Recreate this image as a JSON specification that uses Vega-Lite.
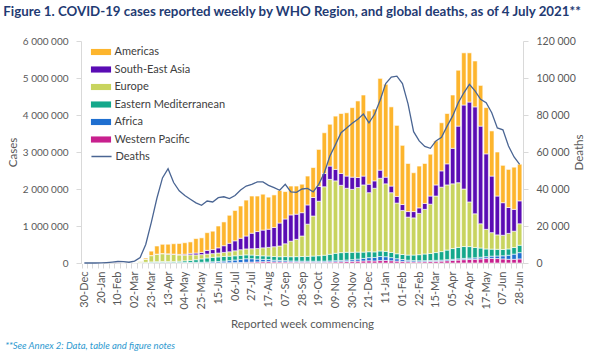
{
  "$schema": "https://vega.github.io/schema/vega-lite/v6.json",
  "padding": {"left": 3, "top": 4, "right": 4, "bottom": 2},
  "background": "white",
  "title": {"text": "Figure 1. COVID-19 cases reported weekly by WHO Region, and global deaths, as of 4 July 2021**", "anchor": "start", "frame": "bounds", "font": "Lato", "fontSize": 13.3, "fontWeight": "bold", "color": "#1F3B73", "offset": 18, "dx": -2},
  "datasets": {
    "w": [
      {"week":"2019-12-30","WPR":40,"AFR":0,"EMR":0,"EUR":0,"SEAR":0,"AMR":0,"deaths":0},
      {"week":"2020-01-06","WPR":10,"AFR":0,"EMR":0,"EUR":0,"SEAR":0,"AMR":0,"deaths":0},
      {"week":"2020-01-13","WPR":30,"AFR":0,"EMR":0,"EUR":0,"SEAR":0,"AMR":0,"deaths":0},
      {"week":"2020-01-20","WPR":1800,"AFR":0,"EMR":0,"EUR":0,"SEAR":0,"AMR":0,"deaths":40},
      {"week":"2020-01-27","WPR":12000,"AFR":0,"EMR":0,"EUR":0,"SEAR":10,"AMR":5,"deaths":250},
      {"week":"2020-02-03","WPR":23000,"AFR":0,"EMR":0,"EUR":10,"SEAR":10,"AMR":5,"deaths":500},
      {"week":"2020-02-10","WPR":31000,"AFR":0,"EMR":0,"EUR":10,"SEAR":0,"AMR":0,"deaths":800},
      {"week":"2020-02-17","WPR":8500,"AFR":0,"EMR":100,"EUR":10,"SEAR":0,"AMR":0,"deaths":700},
      {"week":"2020-02-24","WPR":5000,"AFR":1,"EMR":1000,"EUR":1000,"SEAR":10,"AMR":10,"deaths":400},
      {"week":"2020-03-02","WPR":5000,"AFR":10,"EMR":5000,"EUR":10000,"SEAR":50,"AMR":1000,"deaths":1000},
      {"week":"2020-03-09","WPR":3000,"AFR":200,"EMR":10000,"EUR":35000,"SEAR":100,"AMR":5000,"deaths":3000},
      {"week":"2020-03-16","WPR":5000,"AFR":500,"EMR":15000,"EUR":85000,"SEAR":300,"AMR":30000,"deaths":10000},
      {"week":"2020-03-23","WPR":8000,"AFR":1500,"EMR":20000,"EUR":170000,"SEAR":1000,"AMR":120000,"deaths":22000},
      {"week":"2020-03-30","WPR":12000,"AFR":2500,"EMR":22000,"EUR":200000,"SEAR":3000,"AMR":220000,"deaths":35000},
      {"week":"2020-04-06","WPR":12000,"AFR":3000,"EMR":25000,"EUR":210000,"SEAR":6000,"AMR":250000,"deaths":46000},
      {"week":"2020-04-13","WPR":10000,"AFR":4000,"EMR":25000,"EUR":200000,"SEAR":9000,"AMR":260000,"deaths":51000},
      {"week":"2020-04-20","WPR":6000,"AFR":5000,"EMR":28000,"EUR":190000,"SEAR":12000,"AMR":280000,"deaths":43500},
      {"week":"2020-04-27","WPR":5000,"AFR":7000,"EMR":35000,"EUR":170000,"SEAR":16000,"AMR":295000,"deaths":39000},
      {"week":"2020-05-04","WPR":4000,"AFR":9000,"EMR":45000,"EUR":155000,"SEAR":25000,"AMR":310000,"deaths":36500},
      {"week":"2020-05-11","WPR":4000,"AFR":12000,"EMR":55000,"EUR":150000,"SEAR":40000,"AMR":309000,"deaths":34500},
      {"week":"2020-05-18","WPR":4000,"AFR":15000,"EMR":70000,"EUR":130000,"SEAR":50000,"AMR":391000,"deaths":32500},
      {"week":"2020-05-25","WPR":3000,"AFR":18000,"EMR":90000,"EUR":115000,"SEAR":60000,"AMR":394000,"deaths":31200},
      {"week":"2020-06-01","WPR":4000,"AFR":22000,"EMR":110000,"EUR":105000,"SEAR":100000,"AMR":479000,"deaths":33500},
      {"week":"2020-06-08","WPR":5000,"AFR":28000,"EMR":120000,"EUR":100000,"SEAR":110000,"AMR":497000,"deaths":33000},
      {"week":"2020-06-15","WPR":5000,"AFR":35000,"EMR":125000,"EUR":105000,"SEAR":140000,"AMR":590000,"deaths":35300},
      {"week":"2020-06-22","WPR":7000,"AFR":45000,"EMR":125000,"EUR":110000,"SEAR":180000,"AMR":643000,"deaths":35800},
      {"week":"2020-06-29","WPR":8000,"AFR":55000,"EMR":120000,"EUR":120000,"SEAR":230000,"AMR":757000,"deaths":34800},
      {"week":"2020-07-06","WPR":10000,"AFR":70000,"EMR":115000,"EUR":135000,"SEAR":270000,"AMR":820000,"deaths":36500},
      {"week":"2020-07-13","WPR":14000,"AFR":85000,"EMR":110000,"EUR":150000,"SEAR":310000,"AMR":871000,"deaths":39500},
      {"week":"2020-07-20","WPR":20000,"AFR":95000,"EMR":105000,"EUR":160000,"SEAR":350000,"AMR":970000,"deaths":41600},
      {"week":"2020-07-27","WPR":25000,"AFR":90000,"EMR":100000,"EUR":170000,"SEAR":420000,"AMR":1005000,"deaths":42500},
      {"week":"2020-08-03","WPR":30000,"AFR":75000,"EMR":95000,"EUR":190000,"SEAR":460000,"AMR":960000,"deaths":43800},
      {"week":"2020-08-10","WPR":35000,"AFR":65000,"EMR":95000,"EUR":215000,"SEAR":480000,"AMR":970000,"deaths":43800},
      {"week":"2020-08-17","WPR":38000,"AFR":55000,"EMR":95000,"EUR":235000,"SEAR":490000,"AMR":867000,"deaths":42000},
      {"week":"2020-08-24","WPR":30000,"AFR":45000,"EMR":100000,"EUR":265000,"SEAR":520000,"AMR":880000,"deaths":40700},
      {"week":"2020-08-31","WPR":30000,"AFR":40000,"EMR":100000,"EUR":290000,"SEAR":620000,"AMR":880000,"deaths":39300},
      {"week":"2020-09-07","WPR":28000,"AFR":35000,"EMR":110000,"EUR":347000,"SEAR":670000,"AMR":740000,"deaths":42500},
      {"week":"2020-09-14","WPR":25000,"AFR":30000,"EMR":115000,"EUR":420000,"SEAR":710000,"AMR":780000,"deaths":38500},
      {"week":"2020-09-21","WPR":24000,"AFR":28000,"EMR":120000,"EUR":468000,"SEAR":680000,"AMR":760000,"deaths":38200},
      {"week":"2020-09-28","WPR":22000,"AFR":28000,"EMR":125000,"EUR":555000,"SEAR":630000,"AMR":770000,"deaths":40000},
      {"week":"2020-10-05","WPR":22000,"AFR":28000,"EMR":130000,"EUR":870000,"SEAR":520000,"AMR":780000,"deaths":40300},
      {"week":"2020-10-12","WPR":20000,"AFR":28000,"EMR":140000,"EUR":1082000,"SEAR":500000,"AMR":810000,"deaths":38500},
      {"week":"2020-10-19","WPR":18000,"AFR":30000,"EMR":150000,"EUR":1472000,"SEAR":400000,"AMR":1000000,"deaths":42500},
      {"week":"2020-10-26","WPR":20000,"AFR":30000,"EMR":160000,"EUR":1850000,"SEAR":360000,"AMR":1100000,"deaths":48800},
      {"week":"2020-11-02","WPR":25000,"AFR":30000,"EMR":180000,"EUR":2025000,"SEAR":360000,"AMR":1130000,"deaths":57800},
      {"week":"2020-11-09","WPR":30000,"AFR":32000,"EMR":200000,"EUR":1958000,"SEAR":310000,"AMR":1440000,"deaths":64000},
      {"week":"2020-11-16","WPR":35000,"AFR":35000,"EMR":210000,"EUR":1820000,"SEAR":320000,"AMR":1620000,"deaths":70400},
      {"week":"2020-11-23","WPR":40000,"AFR":40000,"EMR":210000,"EUR":1730000,"SEAR":330000,"AMR":1710000,"deaths":73000},
      {"week":"2020-11-30","WPR":45000,"AFR":45000,"EMR":200000,"EUR":1700000,"SEAR":330000,"AMR":1880000,"deaths":75500},
      {"week":"2020-12-07","WPR":50000,"AFR":55000,"EMR":190000,"EUR":1745000,"SEAR":270000,"AMR":2070000,"deaths":77700},
      {"week":"2020-12-14","WPR":55000,"AFR":70000,"EMR":170000,"EUR":1815000,"SEAR":240000,"AMR":2190000,"deaths":80500},
      {"week":"2020-12-21","WPR":60000,"AFR":85000,"EMR":160000,"EUR":1595000,"SEAR":230000,"AMR":1980000,"deaths":75800},
      {"week":"2020-12-28","WPR":55000,"AFR":95000,"EMR":150000,"EUR":1720000,"SEAR":200000,"AMR":1940000,"deaths":80400},
      {"week":"2021-01-04","WPR":65000,"AFR":110000,"EMR":150000,"EUR":1965000,"SEAR":220000,"AMR":2480000,"deaths":88000},
      {"week":"2021-01-11","WPR":70000,"AFR":100000,"EMR":145000,"EUR":1825000,"SEAR":180000,"AMR":2510000,"deaths":97000},
      {"week":"2021-01-18","WPR":60000,"AFR":85000,"EMR":140000,"EUR":1615000,"SEAR":180000,"AMR":2140000,"deaths":100500},
      {"week":"2021-01-25","WPR":50000,"AFR":65000,"EMR":135000,"EUR":1370000,"SEAR":180000,"AMR":1920000,"deaths":101000},
      {"week":"2021-02-01","WPR":45000,"AFR":50000,"EMR":135000,"EUR":1190000,"SEAR":160000,"AMR":1600000,"deaths":97000},
      {"week":"2021-02-08","WPR":35000,"AFR":40000,"EMR":140000,"EUR":1025000,"SEAR":150000,"AMR":1300000,"deaths":86000},
      {"week":"2021-02-15","WPR":30000,"AFR":35000,"EMR":150000,"EUR":1005000,"SEAR":170000,"AMR":1050000,"deaths":71000},
      {"week":"2021-02-22","WPR":30000,"AFR":30000,"EMR":165000,"EUR":1115000,"SEAR":150000,"AMR":1130000,"deaths":66000},
      {"week":"2021-03-01","WPR":35000,"AFR":28000,"EMR":180000,"EUR":1207000,"SEAR":160000,"AMR":1080000,"deaths":63000},
      {"week":"2021-03-08","WPR":40000,"AFR":27000,"EMR":190000,"EUR":1333000,"SEAR":220000,"AMR":1130000,"deaths":62000},
      {"week":"2021-03-15","WPR":45000,"AFR":27000,"EMR":210000,"EUR":1528000,"SEAR":300000,"AMR":1190000,"deaths":66000},
      {"week":"2021-03-22","WPR":50000,"AFR":28000,"EMR":230000,"EUR":1742000,"SEAR":440000,"AMR":1300000,"deaths":68000},
      {"week":"2021-03-29","WPR":60000,"AFR":30000,"EMR":260000,"EUR":1760000,"SEAR":570000,"AMR":1360000,"deaths":74000},
      {"week":"2021-04-05","WPR":70000,"AFR":30000,"EMR":290000,"EUR":1750000,"SEAR":960000,"AMR":1440000,"deaths":79500},
      {"week":"2021-04-12","WPR":80000,"AFR":32000,"EMR":310000,"EUR":1748000,"SEAR":1530000,"AMR":1510000,"deaths":86600},
      {"week":"2021-04-19","WPR":90000,"AFR":35000,"EMR":320000,"EUR":1555000,"SEAR":2270000,"AMR":1410000,"deaths":92000},
      {"week":"2021-04-26","WPR":95000,"AFR":38000,"EMR":310000,"EUR":1207000,"SEAR":2700000,"AMR":1330000,"deaths":96600},
      {"week":"2021-05-03","WPR":100000,"AFR":40000,"EMR":280000,"EUR":910000,"SEAR":2890000,"AMR":1240000,"deaths":93000},
      {"week":"2021-05-10","WPR":110000,"AFR":45000,"EMR":250000,"EUR":655000,"SEAR":2640000,"AMR":1100000,"deaths":88500},
      {"week":"2021-05-17","WPR":120000,"AFR":50000,"EMR":210000,"EUR":530000,"SEAR":2040000,"AMR":1250000,"deaths":86600},
      {"week":"2021-05-24","WPR":125000,"AFR":60000,"EMR":190000,"EUR":445000,"SEAR":1530000,"AMR":1220000,"deaths":81200},
      {"week":"2021-05-31","WPR":120000,"AFR":70000,"EMR":180000,"EUR":390000,"SEAR":1050000,"AMR":1190000,"deaths":73000},
      {"week":"2021-06-07","WPR":110000,"AFR":85000,"EMR":170000,"EUR":385000,"SEAR":880000,"AMR":1010000,"deaths":72000},
      {"week":"2021-06-14","WPR":100000,"AFR":110000,"EMR":170000,"EUR":420000,"SEAR":700000,"AMR":1030000,"deaths":63200},
      {"week":"2021-06-21","WPR":100000,"AFR":140000,"EMR":180000,"EUR":440000,"SEAR":590000,"AMR":1140000,"deaths":57300},
      {"week":"2021-06-28","WPR":110000,"AFR":170000,"EMR":200000,"EUR":580000,"SEAR":620000,"AMR":990000,"deaths":53300}
    ]
  },
  "vconcat": [
    {
      "width": 442,
      "height": 222,
      "title": {"text": "**See Annex 2: Data, table and figure notes", "orient": "bottom", "anchor": "start", "frame": "bounds", "font": "Lato", "fontSize": 9.5, "fontStyle": "italic", "fontWeight": "normal", "color": "#2E9AD0", "offset": 11, "dx": -2},
      "data": {"name": "w"},
      "layer": [
        {
          "transform": [
            {"fold": ["WPR", "AFR", "EMR", "EUR", "SEAR", "AMR"], "as": ["region", "cases"]},
            {"calculate": "indexof(['WPR','AFR','EMR','EUR','SEAR','AMR'], datum.region)", "as": "ord"}
          ],
          "mark": {"type": "bar", "stroke": "white", "strokeWidth": 0.6},
          "encoding": {
            "x": {
              "field": "week", "type": "ordinal", "sort": "ascending",
              "scale": {"paddingInner": 0.2, "paddingOuter": 0.2},
              "axis": {
                "title": "Reported week commencing",
                "labelAngle": 270,
                "labelOverlap": false,
                "labelExpr": "round((toDate(datum.value) - toDate('2019-12-30')) / 604800000) % 3 == 0 ? utcFormat(toDate(datum.value), '%d-%b') : ''",
                "tickBand": "extent",
                "tickSize": 5,
                "labelPadding": 3,
                "titlePadding": 10
              }
            },
            "y": {
              "field": "cases", "type": "quantitative", "stack": "zero",
              "scale": {"domain": [0, 6000000], "nice": false},
              "axis": {"title": "Cases", "values": [0, 1000000, 2000000, 3000000, 4000000, 5000000, 6000000], "format": ",.0f", "labelFontSize": 10, "tickSize": 5, "labelPadding": 8, "titlePadding": 4}
            },
            "color": {
              "field": "region", "type": "nominal",
              "scale": {"domain": ["AMR", "SEAR", "EUR", "EMR", "AFR", "WPR"], "range": ["#FDB52D", "#5A0CB4", "#C8D45E", "#14A88B", "#1F6FD0", "#C8208E"]},
              "legend": {
                "orient": "none", "legendX": 11, "legendY": 2, "title": null, "padding": 0,
                "symbolType": "M-1.15,-0.35H1.15V0.35H-1.15Z", "symbolSize": 306, "symbolStrokeWidth": 0,
                "labelOffset": 4.5, "rowPadding": 3.5,
                "labelExpr": "{'AMR':'Americas','SEAR':'South-East Asia','EUR':'Europe','EMR':'Eastern Mediterranean','AFR':'Africa','WPR':'Western Pacific'}[datum.value]"
              }
            },
            "order": {"field": "ord", "type": "quantitative", "sort": "ascending"}
          }
        },
        {
          "mark": {"type": "line", "strokeWidth": 1.3},
          "encoding": {
            "x": {"field": "week", "type": "ordinal", "sort": "ascending"},
            "y": {
              "field": "deaths", "type": "quantitative",
              "scale": {"domain": [0, 120000], "nice": false},
              "axis": {"orient": "right", "title": "Deaths", "titleAngle": 270, "values": [0, 20000, 40000, 60000, 80000, 100000, 120000], "format": ",.0f", "labelFontSize": 10.5, "tickSize": 5, "labelPadding": 8, "titlePadding": 9}
            },
            "stroke": {
              "datum": "Deaths", "type": "nominal",
              "scale": {"range": ["#4A6593"]},
              "legend": {
                "orient": "none", "legendX": 11, "legendY": 106, "title": null, "padding": 0,
                "symbolType": "M-1.15,0H1.15", "symbolSize": 306, "symbolStrokeWidth": 1.5,
                "labelOffset": 4.5
              }
            }
          }
        }
      ],
      "resolve": {"scale": {"y": "independent"}}
    }
  ],
  "config": {
    "font": "Lato",
    "view": {"stroke": null},
    "locale": {"number": {"decimal": ".", "thousands": " ", "grouping": [3], "currency": ["", ""]}},
    "axis": {"labelFont": "Lato", "labelFontSize": 11, "labelColor": "#595959", "titleFont": "Lato", "titleFontSize": 11.5, "titleFontWeight": "normal", "titleColor": "#595959", "domainColor": "#D9D9D9", "tickColor": "#D9D9D9", "grid": false},
    "legend": {"labelFont": "Lato", "labelFontSize": 11, "labelColor": "#404040"}
  }
}
